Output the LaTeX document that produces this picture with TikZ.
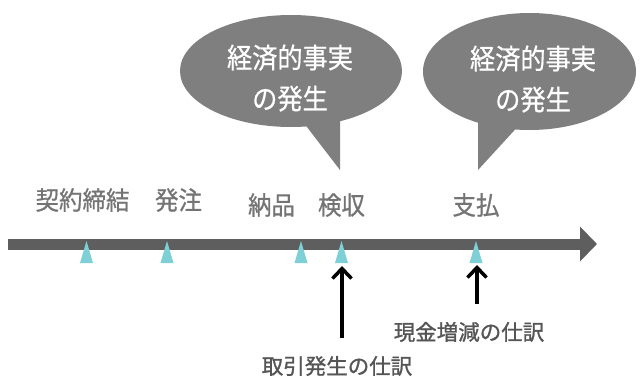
\documentclass[tikz,border=0pt]{standalone}
\usepackage{fontspec}
\newfontfamily\jplab[FakeStretch=0.92,FakeBold=0.8]{Noto Sans CJK JP}
\newfontfamily\jpbub[FakeStretch=0.9,FakeBold=0.6]{Noto Sans CJK JP}
\newfontfamily\jpbot[FakeBold=1.2]{Noto Sans CJK JP}
\usetikzlibrary{arrows.meta}
\definecolor{bubblegray}{HTML}{7F7F7F}
\definecolor{bargray}{HTML}{5E5E5E}
\definecolor{labgray}{HTML}{747474}
\definecolor{botgray}{HTML}{555555}
\definecolor{tricyan}{HTML}{7ED0D6}
\tikzset{
  bubble/.style={fill=bubblegray},
  bubbletext/.style={text=white,align=center,inner sep=0pt,font=\jpbub\fontsize{28}{41}\selectfont},
  toplabel/.style={text=labgray,inner sep=0pt,font=\jplab\fontsize{25.5}{28}\selectfont},
  botlabel/.style={text=botgray,inner sep=0pt,font=\jpbot\fontsize{21.5}{24}\selectfont},
  timeline/.style={draw=bargray,line width=11pt,-{Triangle[length=17pt,width=34pt]}},
  marker/.style={fill=tricyan},
  uparrow/.style={draw=black,line width=3.5pt,-{Straight Barb[length=10pt,width=19pt]}}
}
\begin{document}
\begin{tikzpicture}[x=1pt,y=-1pt]
\useasboundingbox (0,0) rectangle (640,380);
% speech bubbles
\fill[bubble] (291,71) ellipse [x radius=111,y radius=56];
\fill[bubble] (300,118) -- (340,170) -- (340,112) -- cycle;
\fill[bubble] (529.5,71.5) ellipse [x radius=106.5,y radius=58.5];
\fill[bubble] (478,112) -- (478,170) -- (522,122) -- cycle;
\node[bubbletext] (b1) at (290,78) {経済的事実\\の発生};
\node[bubbletext] (b2) at (533,79) {経済的事実\\の発生};
% timeline
\coordinate (tl0) at (8,244);
\coordinate (tl1) at (597,244);
\draw[timeline] (tl0) -- (tl1);
% event labels
\node[toplabel] (l1) at (82.5,200) {契約締結};
\node[toplabel] (l2) at (178.5,200) {発注};
\node[toplabel] (l3) at (271.5,205) {納品};
\node[toplabel] (l4) at (341.5,205) {検収};
\node[toplabel] (l5) at (476,205) {支払};
% markers
\foreach \n/\x in {1/86.5,2/167,3/301,4/341.5,5/476}{
  \coordinate (m\n) at (\x,263);
  \fill[marker] (\x,241) -- (\x+6.5,263) -- (\x-6.5,263) -- cycle;
}
% journal entry arrows
\coordinate (a1s) at (342,338);
\coordinate (a1e) at (342,266);
\coordinate (a2s) at (477,304);
\coordinate (a2e) at (477,265);
\draw[uparrow] (a1s) -- (a1e);
\draw[uparrow] (a2s) -- (a2e);
\node[botlabel] (j1) at (337,366) {取引発生の仕訳};
\node[botlabel] (j2) at (469,332) {現金増減の仕訳};
\end{tikzpicture}
\end{document}
